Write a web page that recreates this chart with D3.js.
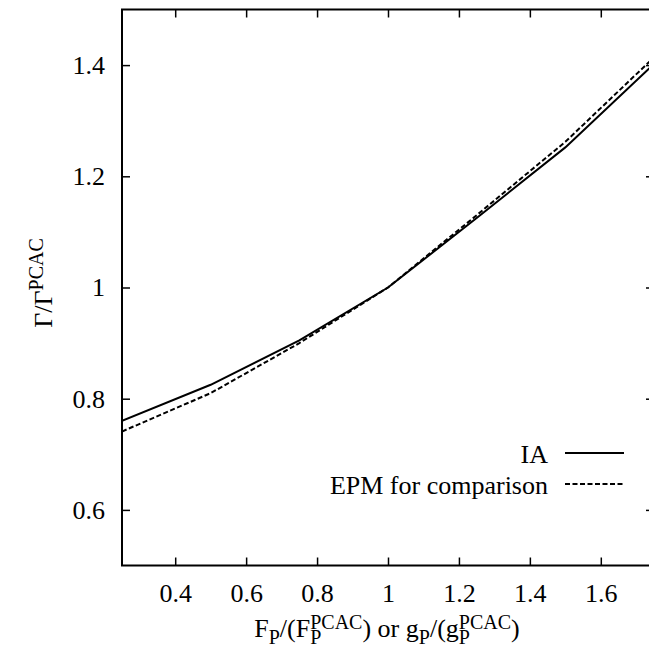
<!DOCTYPE html>
<html>
<head>
<meta charset="utf-8">
<script src="https://cdn.jsdelivr.net/npm/d3@7"></script>
<style>
  body { margin: 0; background: #fff; }
  svg text { font-family: "Liberation Serif", "Times New Roman", Times, "DejaVu Serif", serif !important; }
</style>
</head>
<body>
<div id="chart"></div>
<script>
var xValues = [0.25, 0.5, 0.75, 1.0, 1.25, 1.5, 1.75];
var iaValues = [0.760, 0.825, 0.905, 1.0, 1.125, 1.252, 1.402];
var epmValues = [0.741, 0.810, 0.900, 1.0, 1.130, 1.262, 1.414];
var xTicks = [0.4, 0.6, 0.8, 1.0, 1.2, 1.4, 1.6];
var yTicks = [0.6, 0.8, 1.0, 1.2, 1.4];
var legendLabels = ['IA', 'EPM for comparison'];

var width = 649, height = 649;
var margin = {top: 9.5, right: -5, bottom: 83.5, left: 122};

var svg = d3.select('#chart').append('svg')
  .attr('width', width)
  .attr('height', height);

var x = d3.scaleLinear().domain([0.25, 1.75])
  .range([margin.left, width - margin.right]);
var y = d3.scaleLinear().domain([0.5, 1.5])
  .range([height - margin.bottom, margin.top]);

var fmt = function(d) { return d === 1 ? '1' : d3.format('.1f')(d); };
var tickLen = 8;
var fontSize = 26;
var scriptSize = 20;

// frame
svg.append('rect')
  .attr('x', x(0.25)).attr('y', y(1.5))
  .attr('width', x(1.75) - x(0.25))
  .attr('height', y(0.5) - y(1.5))
  .attr('fill', 'none').attr('stroke', '#000').attr('stroke-width', 2);

// axes (inward ticks, mirrored)
function styleAxis(g) {
  g.attr('font-family', null);
  g.select('.domain').remove();
  g.selectAll('.tick line').attr('stroke', '#000').attr('stroke-width', 1.5);
  g.selectAll('.tick text').attr('fill', '#000').attr('font-size', fontSize);
}

svg.append('g')
  .attr('transform', 'translate(0,' + y(0.5) + ')')
  .call(d3.axisBottom(x).tickValues(xTicks).tickFormat(fmt)
    .tickSizeInner(-tickLen).tickSizeOuter(0).tickPadding(18))
  .call(styleAxis);

svg.append('g')
  .attr('transform', 'translate(0,' + y(1.5) + ')')
  .call(d3.axisTop(x).tickValues(xTicks).tickFormat('')
    .tickSizeInner(-tickLen).tickSizeOuter(0))
  .call(styleAxis);

svg.append('g')
  .attr('transform', 'translate(' + x(0.25) + ',0)')
  .call(d3.axisLeft(y).tickValues(yTicks).tickFormat(fmt)
    .tickSizeInner(-tickLen).tickSizeOuter(0).tickPadding(17))
  .call(styleAxis);

svg.append('g')
  .attr('transform', 'translate(' + x(1.75) + ',0)')
  .call(d3.axisRight(y).tickValues(yTicks).tickFormat('')
    .tickSizeInner(-tickLen).tickSizeOuter(0))
  .call(styleAxis);

// curves
var line = d3.line()
  .x(function(d) { return x(d[0]); })
  .y(function(d) { return y(d[1]); });

var series = [
  {name: legendLabels[0], values: iaValues, dash: null},
  {name: legendLabels[1], values: epmValues, dash: '5,2.5'}
];

var plotClip = svg.append('defs').append('clipPath').attr('id', 'plotClip');
plotClip.append('rect')
  .attr('x', x(0.25)).attr('y', y(1.5))
  .attr('width', x(1.75) - x(0.25)).attr('height', y(0.5) - y(1.5));

svg.append('g').attr('clip-path', 'url(#plotClip)')
  .selectAll('path').data(series).enter().append('path')
  .attr('d', function(s) {
    return line(xValues.map(function(v, i) { return [v, s.values[i]]; }));
  })
  .attr('fill', 'none')
  .attr('stroke', '#000')
  .attr('stroke-width', 2)
  .attr('stroke-dasharray', function(s) { return s.dash; });

// legend
var legend = svg.append('g');
series.forEach(function(s, i) {
  var ly = 453 + i * 31;
  legend.append('text')
    .attr('x', 548).attr('y', ly + 10)
    .attr('text-anchor', 'end')
    .attr('font-size', fontSize)
    .text(s.name);
  legend.append('line')
    .attr('x1', 565).attr('x2', 624)
    .attr('y1', ly).attr('y2', ly)
    .attr('stroke', '#000').attr('stroke-width', 2)
    .attr('stroke-dasharray', s.dash);
});

// y axis label
var yLabel = svg.append('text')
  .attr('transform', 'translate(52,' + 283 + ') rotate(-90)')
  .attr('text-anchor', 'middle')
  .attr('font-size', fontSize);
yLabel.append('tspan').text('\u0393/\u0393');
yLabel.append('tspan').attr('dy', -9).attr('font-size', scriptSize).text('PCAC');

// x axis label: built left-anchored with relative shifts, then centred
var xLabel = svg.append('text')
  .attr('x', 0).attr('y', 637)
  .attr('font-size', fontSize);
var curOff = 0;
function span(txt, off, size, dx) {
  var t = xLabel.append('tspan').attr('dy', off - curOff).text(txt);
  if (size) t.attr('font-size', size);
  if (dx) t.attr('dx', dx);
  curOff = off;
  return t;
}
function subSup(subTxt, supTxt) {
  var s = span(subTxt, 7, scriptSize);
  span(supTxt, -8, scriptSize, -s.node().getComputedTextLength());
}
span('F', 0); span('P', 7, scriptSize); span('/(F', 0); subSup('P', 'PCAC');
span(') or g', 0); span('P', 7, scriptSize); span('/(g', 0); subSup('P', 'PCAC');
span(')', 0);
var labelW = xLabel.node().getBBox().width;
xLabel.attr('x', 387 - labelW / 2);
</script>
</body>
</html>
